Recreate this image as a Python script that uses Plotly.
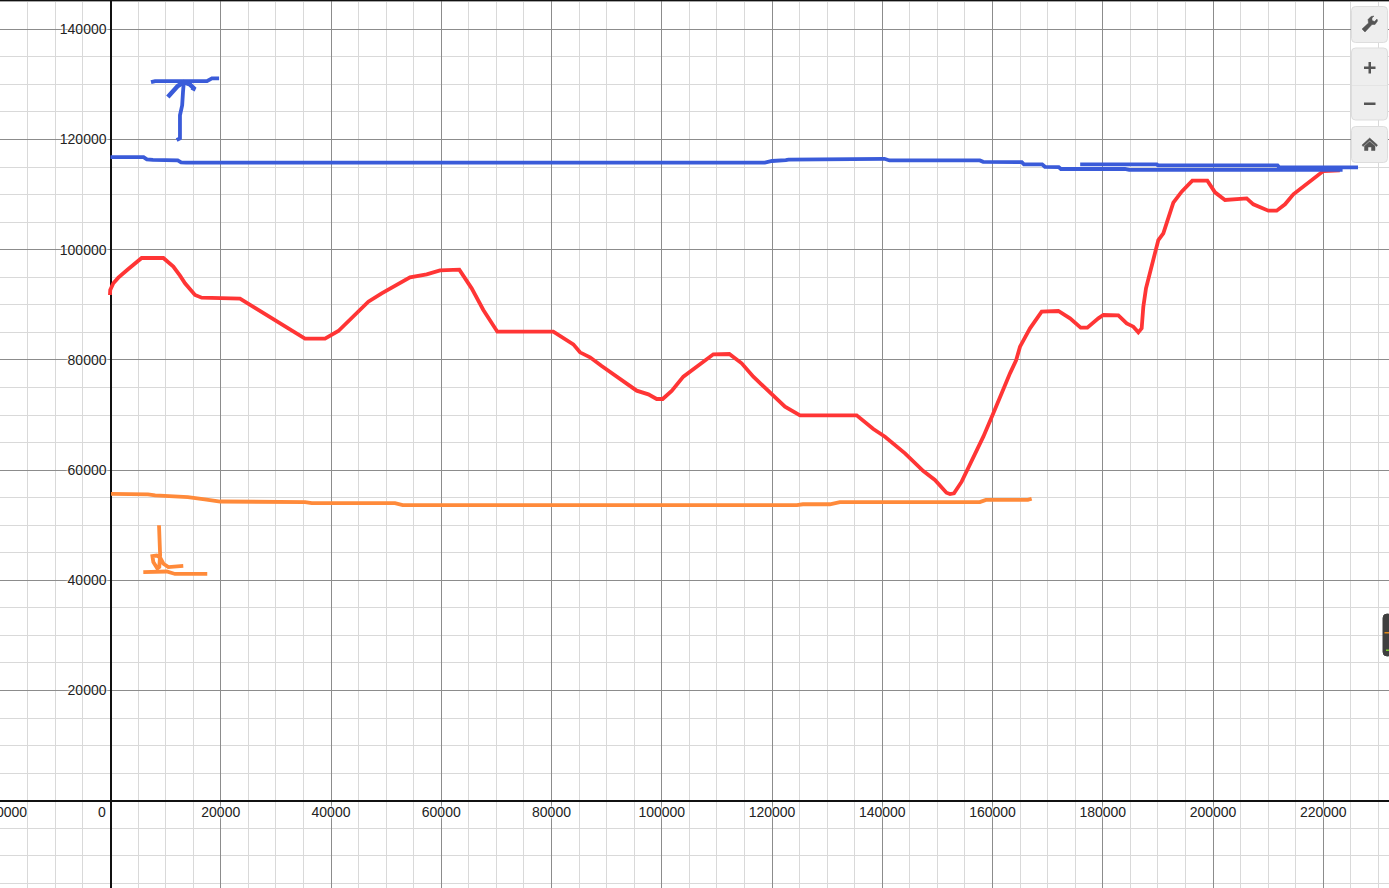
import plotly.graph_objects as go

red_x = [-100,-50,514,1421,3235,4747,5654,9584,11398,12608,13515,15329,16538,23493,25609,28632,30144,32261,35284,38912,41331,44355,46774,49192,53425,54329,57353,59771,63279,65516,67633,70172,80331,81843,83959,85169,86983,89100,91820,93332,95449,97565,99077,100165,101797,103914,106938,107540,109354,112256,114494,116610,119936,122355,125076,135356,138380,140495,144123,147447,149551,151643,152285,153011,154401,155309,156216,157425,158332,160146,161960,163170,164258,164985,166799,168915,171939,174056,175991,177200,179196,180103,182824,184336,185545,186449,187053,187356,187840,189289,190077,190984,192072,192798,194310,196244,198966,200357,202171,204288,206103,207309,210032,211544,213057,214568,217893,220010,223000]
red_y = [91778,92685,93900,94924,96497,97828,98494,98494,96921,95287,93895,91778,91294,91113,89842,88027,87180,85728,83853,83853,85244,88269,90568,92080,94622,94985,95530,96255,96377,92988,89056,85123,85123,84216,82825,81372,80465,78892,76956,76049,74415,73750,72903,72903,74355,76956,79255,79800,81010,81070,79377,76956,73932,71512,69939,69939,67458,66067,63041,59835,58202,55902,55660,55781,57898,59714,61831,63949,66066,70301,74838,77561,79860,82401,85729,88754,88874,87543,85849,85849,87543,88149,88088,86636,86031,85001,85727,89660,92987,98432,101760,102970,106600,108535,110532,112529,112529,110411,109020,109140,109322,108233,107084,107084,108233,110048,112650,114283,114400]

blue_x = [0,6000,6600,7700,12200,12800,13700,118700,120000,120800,122500,123000,125000,125500,140400,141300,157700,158300,165300,165700,169000,169500,172000,172400,184000,184800,223500]
blue_y = [116800,116800,116400,116300,116200,115850,115800,115800,116100,116100,116250,116350,116350,116500,116500,116200,116200,115950,115900,115500,115500,115050,115000,114650,114650,114470,114470]
blue2_x = [175900,189800,190000,211700,212000,226300]
blue2_y = [115500,115500,115300,115300,114950,114950]
bar_x = [7350,8100,17500,18400,19700]
bar_y = [130400,130600,130600,131100,131100]
shaft_x = [12000,12600,12600,13000,13150,13300]
shaft_y = [119900,120200,124400,126200,128600,130400]
head_x = [10400,11150,12200,13300,14400,15100,14900]
head_y = [127700,128600,129700,130400,130000,129300,128900]

orange_x = [100,6800,8100,10400,14050,17100,19900,35300,36500,51600,53000,124500,125600,130500,132300,157700,158800,166400,167100]
orange_y = [55700,55600,55400,55300,55100,54700,54300,54200,54000,54000,53650,53650,53800,53800,54200,54200,54600,54600,54800]
stem_x = [8800,8900,9000,8850,8500,7770,7600,8380,9000,9600,10500,13200]
stem_y = [50000,47700,44600,42400,42150,43300,44400,44500,44100,43000,42400,42600]
base_x = [5950,10200,11700,17550]
base_y = [41500,41600,41150,41150]

x_ticks = list(range(-20000, 240000, 20000))
y_ticks = list(range(0, 160000, 20000))
x_labels = ["" if v <= 0 else str(v) for v in x_ticks]
y_labels = ["" if v == 0 else str(v) for v in y_ticks]

RED = "#ff3535"; BLUE = "#3a5bd9"; ORANGE = "#ff8a3a"
W, H = 1389, 888
x_range = [-20045, 231920]
y_range = [-15844, 145318]

fig = go.Figure()
def add(xs, ys, color, name, width=3.8):
    fig.add_trace(go.Scatter(x=xs, y=ys, mode="lines", name=name,
                             line=dict(color=color, width=width), hoverinfo="skip"))
add(red_x, red_y, RED, "red")
add(blue_x, blue_y, BLUE, "blue")
add(blue2_x, blue2_y, BLUE, "blue 2")
add(bar_x, bar_y, BLUE, "T bar")
add(shaft_x, shaft_y, BLUE, "T shaft")
add(head_x, head_y, BLUE, "T head", 4.5)
add(orange_x, orange_y, ORANGE, "orange")
add(stem_x, stem_y, ORANGE, "L stem")
add(base_x, base_y, ORANGE, "L base")

font = dict(family="Liberation Sans, Arial, sans-serif", size=14, color="#222222",
            shadow="0 0 3px white, 0 0 3px white, 0 0 2px white")
def axis(rng, ticks, labels, pos, **kw):
    return dict(range=rng, tickmode="array", tickvals=ticks, ticktext=labels, anchor="free",
                position=pos, showgrid=True, gridcolor="#8c8c8c", gridwidth=1,
                zeroline=True, zerolinecolor="#111111", zerolinewidth=2, showline=False,
                ticks="", tickfont=font, fixedrange=True,
                minor=dict(dtick=5000, tick0=0, showgrid=True, gridcolor="#d9d9d9", gridwidth=1, ticks=""),
                **kw)

def px(x): return x / W
def py(y): return 1 - y / H
def rect(x0, y0, x1, y1, fill="#eeeeee", line="#dddddd"):
    r = 4
    path = (f"M {px(x0+r)} {py(y0)} L {px(x1-r)} {py(y0)} Q {px(x1)} {py(y0)} {px(x1)} {py(y0+r)} "
            f"L {px(x1)} {py(y1-r)} Q {px(x1)} {py(y1)} {px(x1-r)} {py(y1)} L {px(x0+r)} {py(y1)} "
            f"Q {px(x0)} {py(y1)} {px(x0)} {py(y1-r)} L {px(x0)} {py(y0+r)} Q {px(x0)} {py(y0)} {px(x0+r)} {py(y0)} Z")
    return dict(type="path", xref="paper", yref="paper", path=path, fillcolor=fill,
                line=dict(color=line, width=1), layer="above")
def poly(pts, fill="#555555"):
    path = "M " + " L ".join(f"{px(a)} {py(b)}" for a, b in pts) + " Z"
    return dict(type="path", xref="paper", yref="paper", path=path, fillcolor=fill,
                line=dict(color=fill, width=0.5), layer="above")
def bar(x0, y0, x1, y1, fill="#555555"):
    return dict(type="rect", xref="paper", yref="paper", x0=px(x0), x1=px(x1), y0=py(y1), y1=py(y0),
                fillcolor=fill, line=dict(width=0), layer="above")

shapes = [
    bar(0, 0, W, 1.2, "#111111"),
    rect(1351.5, 6.5, 1387.5, 42.5),
    rect(1351.5, 48, 1387.5, 120),
    bar(1352, 85, 1387, 85.7, "#e0e0e0"),
    rect(1351.5, 126.5, 1387.5, 162.5),
    poly([(1362,29),(1365,32),(1372,24.5),(1375,24.5),(1377.5,21),(1377,19),(1374.5,21.5),(1372,20.5),(1372,18),(1374,16),(1371,16.5),(1368,19.5),(1368.5,23)]),
    bar(1364, 66.5, 1375.5, 69),
    bar(1368.5, 62, 1371, 73.5),
    bar(1364, 102.5, 1375.5, 105),
    poly([(1362,145),(1369.7,138),(1377.5,145),(1376.5,146.5),(1369.7,140.5),(1363,146.5)]),
    poly([(1364.5,146),(1369.7,141.5),(1375,146),(1375,150.5),(1371.5,150.5),(1371.5,147),(1368,147),(1368,150.5),(1364.5,150.5)]),
    rect(1383, 614, 1392, 656, "#3f3f3f", "#3f3f3f"),
    bar(1384.5, 632, 1389, 633.5, "#e08a1e"),
    bar(1386, 649.5, 1389, 651, "#7fd030"),
]

fig.update_layout(
    width=W, height=H, margin=dict(l=0, r=0, t=0, b=0),
    paper_bgcolor="white", plot_bgcolor="white", showlegend=False,
    xaxis=axis(x_range, x_ticks, x_labels, 15844 / 161162, ticklabelstandoff=1),
    yaxis=axis(y_range, y_ticks, y_labels, 20045 / 251965, ticklabelstandoff=4),
    shapes=shapes,
    annotations=[
        dict(x=0, y=0, xref="x", yref="y", text="0", showarrow=False, xanchor="right", yanchor="top",
             xshift=-3, yshift=-1, font=font),
        dict(x=-15150, y=0, xref="x", yref="y", text="\u221220000", showarrow=False, xanchor="right", yanchor="top",
             xshift=2, yshift=-1, font=font),
    ],
)
fig.write_html("out.html", post_script="document.body.style.margin='0';document.body.style.overflow='hidden';",
               config=dict(displayModeBar=False))
